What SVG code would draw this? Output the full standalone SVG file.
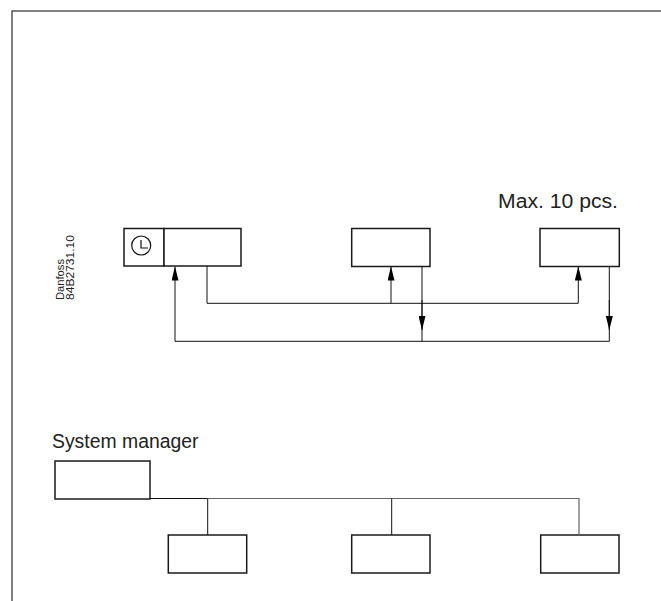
<svg xmlns="http://www.w3.org/2000/svg" width="661" height="601" viewBox="0 0 661 601">
  <defs>
    <style>
      .box { fill: #fff; stroke: #1a1a1a; stroke-width: 1.5; }
      .wire { fill: none; stroke: #111; stroke-width: 1; }
      .wire-g { fill: none; stroke: #666; stroke-width: 1.2; }
      .lbl { font-family: "Liberation Sans", Arial, sans-serif; font-size: 20px; fill: #222; }
      .code { font-family: "Liberation Sans", Arial, sans-serif; font-size: 10.5px; fill: #222; }
    </style>
    <marker id="ah" viewBox="0 0 14 7" refX="14" refY="3.5" markerWidth="14" markerHeight="7" markerUnits="userSpaceOnUse" orient="auto">
      <path d="M0,0 L14,3.5 L0,7 Z" fill="#000"/>
    </marker>
  </defs>

  <rect width="661" height="601" fill="#fff"/>
  <path d="M12,601 V11 H661" fill="none" stroke="#555" stroke-width="1.5"/>

  <g id="code-label">
    <text class="code" transform="translate(63.5,300) rotate(-90)" textLength="41" lengthAdjust="spacingAndGlyphs">Danfoss</text>
    <text class="code" transform="translate(73.5,300) rotate(-90)" textLength="65" lengthAdjust="spacingAndGlyphs">84B2731.10</text>
  </g>

  <g id="label-max">
    <text class="lbl" x="498" y="208" textLength="120" lengthAdjust="spacingAndGlyphs">Max. 10 pcs.</text>
  </g>

  <g id="node-master">
    <rect class="box" x="124" y="228.5" width="40" height="37.5"/>
    <rect class="box" x="164" y="228.5" width="77" height="37.5"/>
    <circle cx="141.2" cy="245.5" r="9.5" fill="none" stroke="#111" stroke-width="1.2"/>
    <path d="M141,240 V248 H148" fill="none" stroke="#111" stroke-width="1.2"/>
  </g>
  <g id="node-slave1">
    <rect class="box" x="351.7" y="228.5" width="78.3" height="38"/>
  </g>
  <g id="node-slave2">
    <rect class="box" x="540" y="228.5" width="79.3" height="38"/>
  </g>

  <g id="connectors-top">
    <path class="wire" d="M207,266 V303.3 H578.3 V266.5" marker-end="url(#ah)"/>
    <path class="wire" d="M391,303.3 V266.5" marker-end="url(#ah)"/>
    <path class="wire" d="M175,341.3 H609.3"/>
    <path class="wire" d="M175,341.3 V266.5" marker-end="url(#ah)"/>
    <path class="wire" d="M422,266.5 V341.3"/>
    <path class="wire" d="M422,300 V330" marker-end="url(#ah)"/>
    <path class="wire" d="M609.3,266.5 V341.3"/>
    <path class="wire" d="M609.3,300 V330" marker-end="url(#ah)"/>
  </g>

  <g id="label-sm">
    <text class="lbl" x="52" y="447.7" textLength="146.5" lengthAdjust="spacingAndGlyphs">System manager</text>
  </g>

  <g id="node-sm">
    <rect class="box" x="55" y="461" width="95" height="38"/>
  </g>
  <g id="node-b1">
    <rect class="box" x="168.3" y="535" width="78.4" height="38"/>
  </g>
  <g id="node-b2">
    <rect class="box" x="351.7" y="535" width="78.3" height="38"/>
  </g>
  <g id="node-b3">
    <rect class="box" x="540.7" y="535" width="78.3" height="38"/>
  </g>

  <g id="connectors-bottom">
    <path class="wire" d="M150,498.5 H207.7"/>
    <path class="wire-g" d="M207.7,498.5 H579 V535"/>
    <path class="wire" d="M207.7,498.5 V535"/>
    <path class="wire" d="M391.7,498.5 V535"/>
  </g>
</svg>
